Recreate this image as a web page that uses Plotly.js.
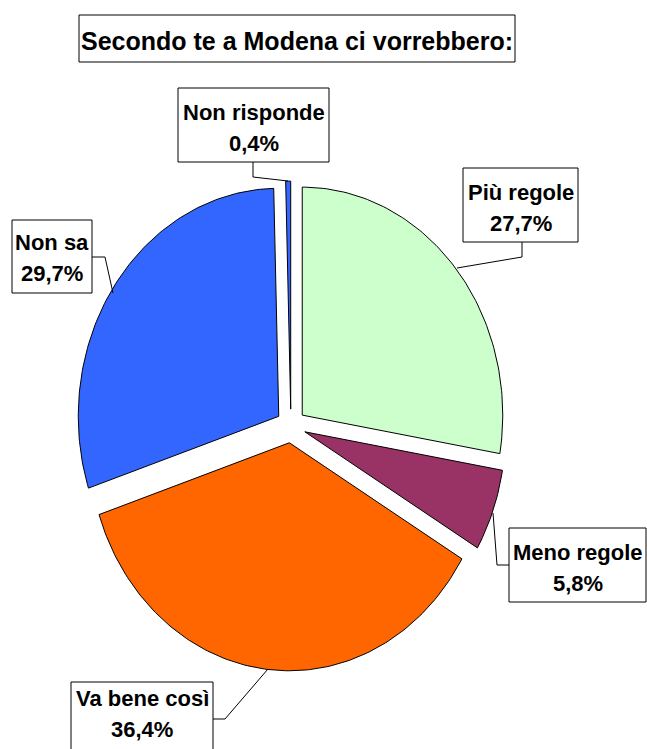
<!DOCTYPE html>
<html>
<head>
<meta charset="utf-8">
<script src="https://cdn.plot.ly/plotly-3.0.1.min.js"></script>
<style>html,body{margin:0;padding:0;background:#fff;}#chart{width:647px;height:749px;}</style>
</head>
<body>
<div id="chart"></div>
<script>
// ---- data ----
const chartTitle = 'Secondo te a Modena ci vorrebbero:';
const categories = ['Più regole', 'Meno regole', 'Va bene così', 'Non sa', 'Non risponde'];
const values = [27.7, 5.8, 36.4, 29.7, 0.4];
const colors = ['#CCFFCC', '#993366', '#FF6600', '#3366FF', '#3366FF'];

// ---- layout parameters (pixel space) ----
const W = 647, H = 749;
const CX = 290.9, CY = 426, RX = 200.5, RY = 228, EXPLODE = 0.074;
// label boxes: [left, top, right, bottom]
const labelBoxes = [
  [463, 168, 578, 242],
  [509, 528, 646, 602],
  [71, 682, 213, 760],
  [12, 220, 92, 293],
  [178, 88, 329, 162]
];
// baseline of first text line in each box
const labelBaselines = [200, 560, 706, 250, 120];
const LINE_GAP = 31;
// leader lines (polyline points)
const leaders = [
  [[522, 242], [522, 257], [457, 268]],
  [[509, 565], [497, 565], [493, 513]],
  [[213, 719], [225, 719], [268, 669]],
  [[92, 257], [105, 257], [113, 293]],
  [[253, 162], [253, 177], [288, 181]]
];

const total = values.reduce((a, b) => a + b, 0);
const traces = [];
let cum = 0;
values.forEach((v, i) => {
  const a1 = cum / total * 2 * Math.PI;
  cum += v;
  const a2 = cum / total * 2 * Math.PI;
  const mid = (a1 + a2) / 2;
  const cx = CX + EXPLODE * RX * Math.sin(mid);
  const cy = CY - EXPLODE * RY * Math.cos(mid);
  const xs = [cx], ys = [cy];
  const n = Math.max(4, Math.ceil((a2 - a1) / (Math.PI / 180)));
  for (let k = 0; k <= n; k++) {
    const a = a1 + (a2 - a1) * k / n;
    xs.push(cx + RX * Math.sin(a));
    ys.push(cy - RY * Math.cos(a));
  }
  xs.push(cx); ys.push(cy);
  traces.push({
    type: 'scatter', mode: 'lines', x: xs, y: ys, fill: 'toself',
    fillcolor: colors[i], line: {color: '#000', width: 1},
    name: categories[i], hoverinfo: 'text',
    text: categories[i] + ' ' + v.toFixed(1).replace('.', ',') + '%',
    showlegend: false
  });
});

const FAMILY = 'Liberation Sans, Arial, sans-serif';
const LABEL_SIZE = 22, TITLE_SIZE = 25;
const midOffset = s => 0.3465 * s; // baseline -> vertical middle of text box
const shapes = [];
const annotations = [];
// title box
shapes.push({type: 'rect', xref: 'x', yref: 'y', x0: 79, y0: 15, x1: 515, y1: 62,
  line: {color: '#000', width: 1}, fillcolor: '#fff', layer: 'above'});
annotations.push({xref: 'x', yref: 'y', x: 297, y: 50 - midOffset(TITLE_SIZE), xanchor: 'center', yanchor: 'middle',
  text: '<b>' + chartTitle + '</b>', showarrow: false,
  font: {family: FAMILY, size: TITLE_SIZE, color: '#000'}});

labelBoxes.forEach((b, i) => {
  const pts = leaders[i];
  for (let k = 0; k < pts.length - 1; k++) {
    shapes.push({type: 'line', xref: 'x', yref: 'y', x0: pts[k][0], y0: pts[k][1],
      x1: pts[k + 1][0], y1: pts[k + 1][1], line: {color: '#000', width: 1}, layer: 'above'});
  }
  shapes.push({type: 'rect', xref: 'x', yref: 'y', x0: b[0], y0: b[1], x1: b[2], y1: b[3],
    line: {color: '#000', width: 1}, fillcolor: '#fff', layer: 'above'});
  const xc = (b[0] + b[2]) / 2;
  const lines = [categories[i], values[i].toFixed(1).replace('.', ',') + '%'];
  lines.forEach((t, j) => {
    annotations.push({xref: 'x', yref: 'y', x: xc,
      y: labelBaselines[i] + j * LINE_GAP - midOffset(LABEL_SIZE),
      xanchor: 'center', yanchor: 'middle',
      text: '<b>' + t + '</b>', showarrow: false,
      font: {family: FAMILY, size: LABEL_SIZE, color: '#000'}});
  });
});

const layout = {
  width: W, height: H,
  margin: {l: 0, r: 0, t: 0, b: 0},
  paper_bgcolor: '#fff', plot_bgcolor: '#fff',
  xaxis: {range: [0, W], visible: false, fixedrange: true},
  yaxis: {range: [H, 0], visible: false, fixedrange: true},
  shapes: shapes, annotations: annotations, showlegend: false
};
Plotly.newPlot('chart', traces, layout, {displayModeBar: false, staticPlot: true});
</script>
</body>
</html>
